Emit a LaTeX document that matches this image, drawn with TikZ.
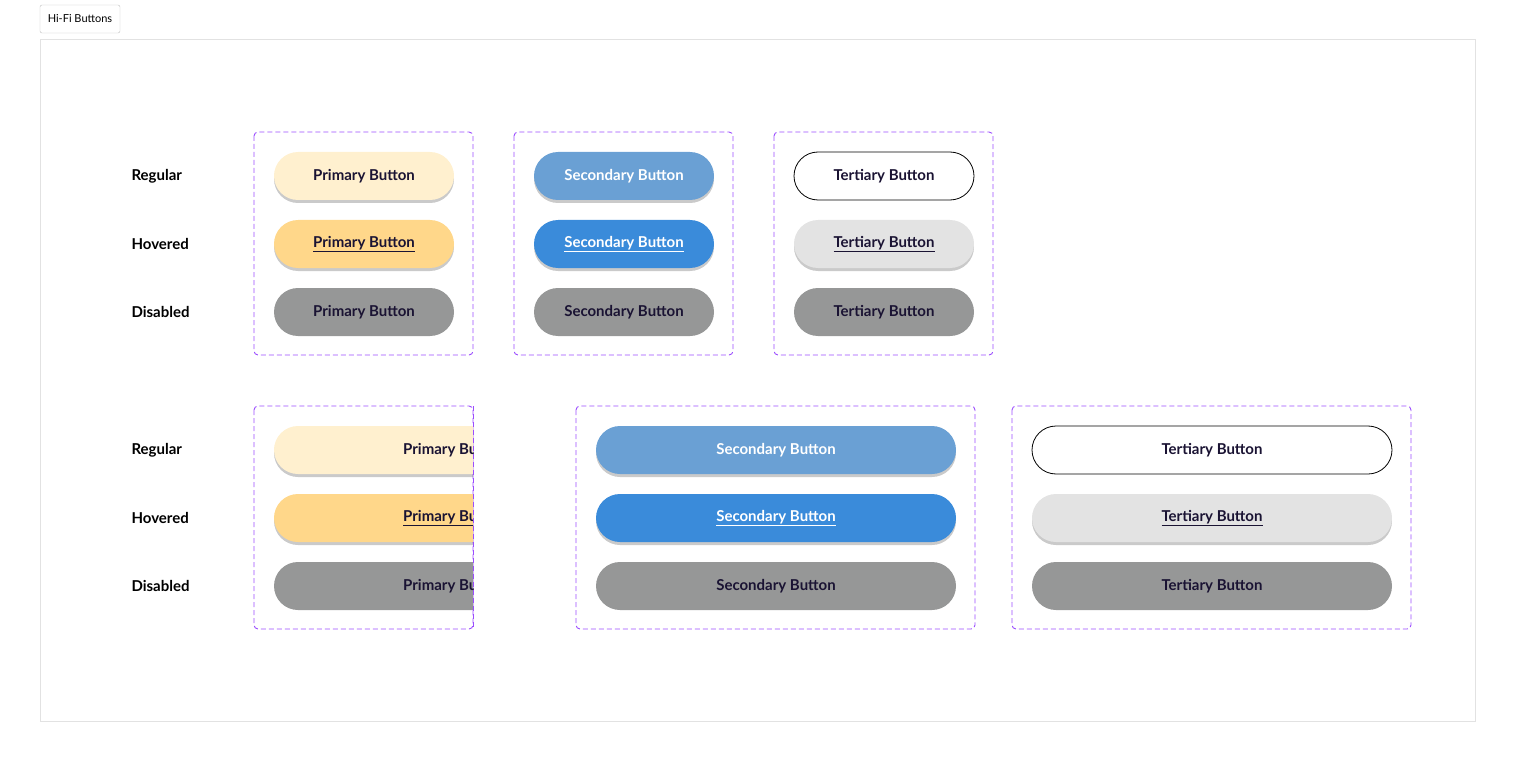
\documentclass[tikz,border=0pt]{standalone}
\usepackage{fontspec}
\setmainfont{Lato}
\usetikzlibrary{shadows}
\definecolor{frameg}{HTML}{E2E2E2}
\definecolor{dash}{HTML}{9B4DFF}
\definecolor{pReg}{HTML}{FFF0CF}
\definecolor{pHov}{HTML}{FFD78A}
\definecolor{dis}{HTML}{969797}
\definecolor{sReg}{HTML}{6AA0D4}
\definecolor{sHov}{HTML}{3A8BDA}
\definecolor{tHov}{HTML}{E3E3E3}
\definecolor{txt}{HTML}{1A1333}
\tikzset{
  grp/.style={draw=dash, dashed, dash pattern=on 5pt off 3pt, rounded corners=4pt, line width=0.9pt},
  lbl/.style={anchor=west, font=\fontsize{15}{18}\selectfont\bfseries, text=black},
  btn/.style={rounded corners=24pt, minimum height=48pt, inner sep=0pt, font=\fontsize{15}{18}\selectfont\bfseries, text=txt},
  shd/.style={drop shadow={shadow xshift=0pt, shadow yshift=-3pt, opacity=0.35, fill=black!60}},
}
\begin{document}
\begin{tikzpicture}[x=1pt,y=-1pt]
\useasboundingbox (0,0) rectangle (1515,762);
\node[draw=black!25, rounded corners=2pt, minimum width=80pt, minimum height=28pt, inner sep=0pt, font=\fontsize{11}{13}\selectfont] (tag) at (80,19) {Hi-Fi Buttons};
\draw[frameg, line width=1pt] (40,40) rectangle (1475,721);
% groups
\draw[grp] (254,132) rectangle (473,355);
\draw[grp] (514,132) rectangle (733,355);
\draw[grp] (774,132) rectangle (993,355);
\draw[grp] (254,406) rectangle (473,629);
\draw[grp] (576,406) rectangle (975,629);
\draw[grp] (1012,406) rectangle (1411,629);
% labels
\foreach \y/\n in {0/a,274/b}{
  \node[lbl] (reg\n) at (128,176+\y) {Regular};
  \node[lbl] (hov\n) at (128,244+\y) {Hovered};
  \node[lbl] (dis\n) at (128,312+\y) {Disabled};
}
% top row
\tikzset{bs/.style={btn, minimum width=180pt}}
\node[bs, fill=pReg, shd] (p1) at (364,176) {Primary Button};
\node[bs, fill=pHov, shd] (p2) at (364,244) {\underline{Primary Button}};
\node[bs, fill=dis] (p3) at (364,312) {Primary Button};
\node[bs, fill=sReg, shd, text=white] (s1) at (624,176) {Secondary Button};
\node[bs, fill=sHov, shd, text=white] (s2) at (624,244) {\underline{Secondary Button}};
\node[bs, fill=dis] (s3) at (624,312) {Secondary Button};
\node[bs, fill=white, draw=black, line width=0.8pt] (t1) at (884,176) {Tertiary Button};
\node[bs, fill=tHov, shd] (t2) at (884,244) {\underline{Tertiary Button}};
\node[bs, fill=dis] (t3) at (884,312) {Tertiary Button};
% bottom row
\tikzset{bl/.style={btn, minimum width=360pt}}
\begin{scope}
\clip (250,400) rectangle (473,640);
\node[bl, fill=pReg, shd] (P1) at (454,450) {Primary Button};
\node[bl, fill=pHov, shd] (P2) at (454,518) {\underline{Primary Button}};
\node[bl, fill=dis] (P3) at (454,586) {Primary Button};
\end{scope}
\draw[grp] (473,406) -- (473,629);
\node[bl, fill=sReg, shd, text=white] (S1) at (776,450) {Secondary Button};
\node[bl, fill=sHov, shd, text=white] (S2) at (776,518) {\underline{Secondary Button}};
\node[bl, fill=dis] (S3) at (776,586) {Secondary Button};
\node[bl, fill=white, draw=black, line width=0.8pt] (T1) at (1212,450) {Tertiary Button};
\node[bl, fill=tHov, shd] (T2) at (1212,518) {\underline{Tertiary Button}};
\node[bl, fill=dis] (T3) at (1212,586) {Tertiary Button};
\end{tikzpicture}
\end{document}
